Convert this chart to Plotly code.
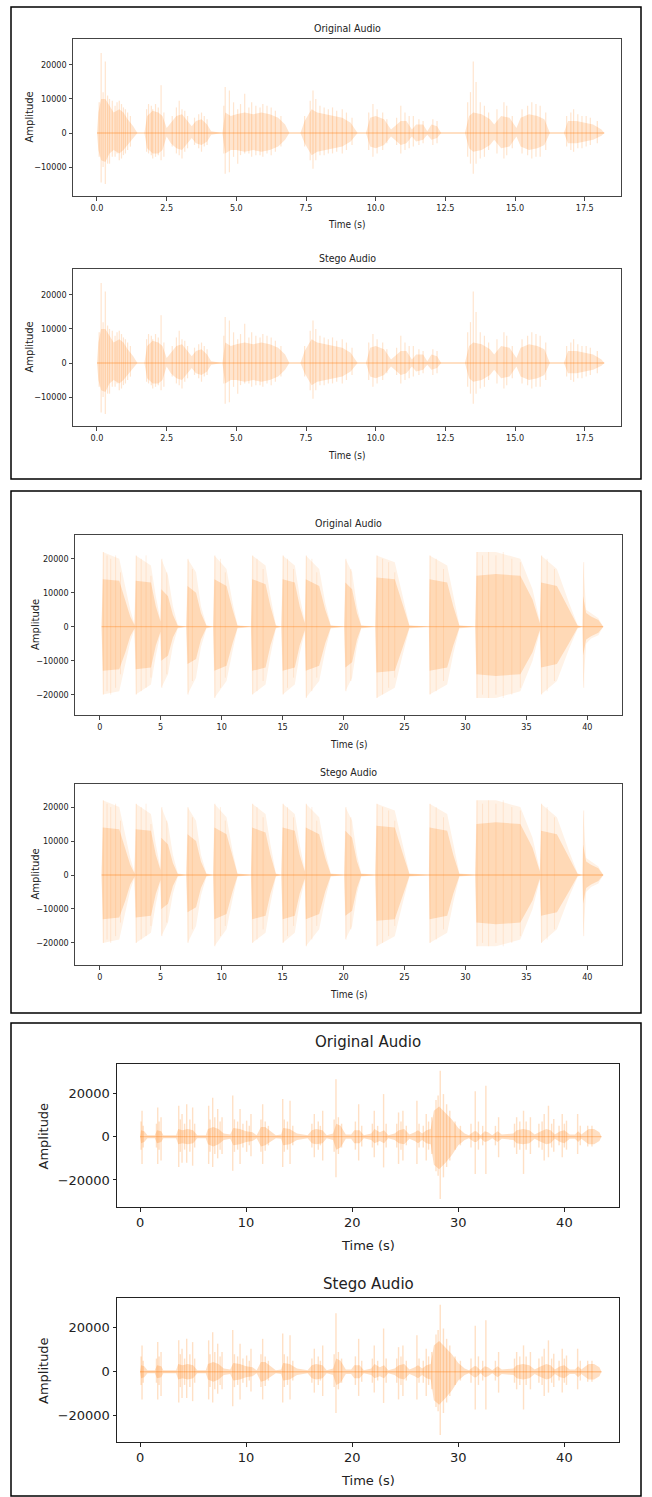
import plotly.graph_objects as go

W, H = 652, 1497

# ---------------- Panel 1 (speech clip, ~18 s) : envelope ----------------
p1_core_t = [0.0, 0.05, 0.15, 0.3, 0.45, 0.6, 0.8, 0.95, 1.1, 1.3, 1.45, 1.7, 1.8, 2.0, 2.2, 2.35, 2.5, 2.65, 2.85, 3.05,
             3.25, 3.4, 3.55, 3.75, 3.95, 4.1, 4.5, 4.6, 4.8, 5.0, 5.3, 5.6, 5.9, 6.2, 6.5, 6.75, 6.9, 7.3, 7.45, 7.7,
             7.9, 8.2, 8.5, 8.8, 9.1, 9.35, 9.65, 9.8, 10.0, 10.3, 10.55, 10.7, 10.9, 11.1, 11.3, 11.45, 11.7, 11.85, 12.0, 12.2,
             12.35, 13.2, 13.35, 13.5, 13.8, 14.1, 14.25, 14.5, 14.8, 15.05, 15.2, 15.5, 15.8, 16.05, 16.25, 16.75, 16.9, 17.2, 17.5, 17.8,
             18.1, 18.2]
p1_core_hi = [0, 6000, 10000, 10000, 8000, 6000, 7000, 6000, 4000, 2000, 0, 0, 5000, 6500, 6000, 5000, 1500, 3000, 5000, 5500,
              3500, 2000, 3500, 4000, 2500, 500, 0, 6000, 5000, 5500, 6000, 5500, 6000, 5500, 4500, 2500, 0, 0, 3500, 7000,
              6000, 5500, 5000, 4500, 3000, 0, 0, 4500, 5000, 4000, 1000, 2000, 3500, 3500, 1000, 2500, 2500, 500, 2500, 2000,
              0, 0, 5000, 6000, 5500, 4000, 2500, 5000, 4500, 1500, 4500, 5500, 5000, 4000, 0, 0, 3500, 3500, 3000, 2500,
              1000, 0]
p1_core_lo = [0, -5000, -8000, -8500, -6000, -5000, -6000, -5000, -3500, -1500, 0, 0, -4500, -6000, -6000, -5000, -1000, -3000, -4500, -5000,
              -3000, -1500, -3000, -3500, -2500, -500, 0, -6000, -5000, -5000, -5500, -5000, -5500, -5000, -4000, -2000, 0, 0, -3000, -6500,
              -5500, -5000, -4500, -4000, -2500, 0, 0, -4000, -4500, -3500, -1000, -2000, -3500, -3000, -1000, -2500, -2000, -500, -2000, -1500,
              0, 0, -4500, -5500, -5000, -3500, -2000, -4500, -4000, -1000, -4000, -5000, -4500, -3500, 0, 0, -3000, -3000, -2500, -2000,
              -800, 0]
p1_spike_t = [0.15, 0.3, 0.45, 0.55, 0.8, 0.95, 1.1, 1.85, 2.0, 2.3, 2.95, 3.05, 3.75, 4.6, 4.75, 5.3, 5.7, 6.1, 7.75, 7.85,
              8.3, 8.8, 9.9, 10.9, 11.35, 13.5, 13.6, 14.6, 15.6, 15.9, 17.1, 17.4,
              0.08, 0.22, 0.38, 0.65, 0.72, 0.88, 1.02, 1.2, 1.78, 1.95, 2.1, 2.2, 2.4, 2.7, 2.85, 3.15, 3.25, 3.5, 3.65, 3.85,
              3.95, 4.55, 4.9, 5.05, 5.15, 5.45, 5.55, 5.85, 5.95, 6.25, 6.4, 6.6, 7.45, 7.65, 8.0, 8.15, 8.45, 8.6, 8.95, 9.15,
              9.75, 10.05, 10.25, 10.4, 10.75, 11.05, 11.2, 11.55, 11.7, 12.05, 12.2, 13.3, 13.4, 13.75, 13.9, 14.05, 14.35, 14.7, 14.9, 15.25,
              15.45, 15.75, 16.1, 16.85, 17.0, 17.25, 17.55, 17.7, 17.95]
p1_spike_hi = [23500, 21000, 10000, 9500, 9500, 7500, 6000, 8500, 7000, 14000, 9500, 7000, 6000, 13500, 12500, 11500, 8000, 8000, 12500, 10000,
               7000, 7000, 8500, 8000, 5000, 21000, 15000, 9000, 9000, 8000, 7000, 5000,
               9000, 12000, 11000, 8000, 9000, 8500, 7000, 5000, 7000, 8000, 8500, 7500, 6000, 5000, 7500, 6500, 5000, 4500, 5500, 5000,
               4000, 8000, 9000, 7000, 8500, 7500, 9000, 7500, 8500, 7500, 6500, 5000, 5000, 9500, 8000, 7500, 7500, 6500, 6000, 4500,
               6000, 7000, 6000, 4000, 4500, 6000, 5000, 4000, 3500, 4000, 3500, 9000, 12000, 9000, 8000, 6000, 7000, 8000, 5000, 7000,
               8000, 8500, 6000, 5000, 6000, 5500, 5000, 4500, 3500]
p1_spike_lo = [-14500, -15000, -9000, -7000, -8000, -6500, -5000, -6000, -7500, -8000, -6500, -7500, -5500, -12000, -11500, -6000, -6500, -6000, -10500, -8000,
               -6000, -6000, -7000, -6000, -4000, -12000, -9000, -7500, -7500, -7000, -5500, -4500,
               -7000, -10000, -9000, -7000, -6000, -7500, -6000, -4000, -5500, -6500, -7000, -6500, -7000, -4000, -6000, -5500, -4500, -3500, -4500, -4000,
               -3500, -6000, -7000, -9000, -6500, -6000, -7000, -6500, -7000, -6500, -5500, -4000, -4000, -8000, -6500, -6500, -6000, -5500, -5000, -3500,
               -5000, -6000, -5000, -3000, -3500, -5000, -4500, -3500, -3000, -3500, -3000, -7000, -9000, -7500, -7000, -5000, -6000, -6500, -4500, -6000,
               -6500, -7000, -5000, -4000, -5000, -4500, -4000, -3500, -3000]

# ---------------- Panel 2 (percussive clip, ~41 s) ----------------
p2_core_t = [0.15, 0.25, 1.6, 2.1, 2.5, 2.85, 2.95, 4.2, 4.6, 4.98, 5.05, 5.6, 6.0, 6.4, 7.1, 7.2, 7.9, 8.3, 8.75, 9.3,
             9.4, 10.4, 10.9, 11.3, 12.4, 12.5, 13.6, 14.0, 14.45, 14.9, 15.0, 16.0, 16.4, 16.82, 16.9, 18.0, 18.5, 18.95, 20.05, 20.15,
             20.7, 21.1, 21.45, 22.6, 22.7, 24.2, 24.8, 25.4, 27.0, 27.05, 28.5, 29.0, 29.5, 30.8, 30.9, 32.5, 34.5, 35.5, 36.1, 36.2,
             37.5, 38.5, 39.2, 39.6, 39.65, 39.9, 40.3, 40.9, 41.3]
p2_core_hi = [0, 14000, 13500, 8000, 3000, 500, 13500, 13000, 6000, 1500, 11000, 9000, 3500, 300, 0, 12000, 10000, 4000, 300, 0,
              14000, 12000, 5000, 300, 0, 14000, 12500, 6000, 300, 0, 14000, 13000, 6000, 1000, 14000, 12000, 5000, 300, 0, 13000,
              11000, 4000, 300, 0, 14500, 14000, 7000, 300, 0, 14000, 13000, 6000, 300, 0, 15000, 15500, 15000, 8000, 1000, 13000,
              12000, 5000, 300, 0, 9000, 4000, 3000, 2000, 0]
p2_core_lo = [0, -13000, -12500, -7500, -2800, -500, -12500, -12000, -5500, -1500, -10000, -8500, -3200, -300, 0, -11000, -9500, -3800, -300, 0,
              -13000, -11500, -4800, -300, 0, -13000, -12000, -5500, -300, 0, -13000, -12000, -5500, -1000, -13000, -11500, -4800, -300, 0, -12000,
              -10500, -3800, -300, 0, -13500, -13000, -6500, -300, 0, -13000, -12000, -5500, -300, 0, -14000, -14500, -14000, -7500, -1000, -12000,
              -11000, -4800, -300, 0, -8500, -3800, -2800, -1800, 0]
# faint outer extent of the bursts (same time points as the core)
p2_halo_hi = [0, 22000, 20000, 12000, 5000, 800, 21000, 18000, 9000, 2000, 20000, 15000, 6000, 500, 0, 20000, 16000, 6000, 500, 0,
              21000, 17000, 7000, 500, 0, 21000, 18000, 9000, 500, 0, 21000, 18000, 9000, 1500, 21000, 17000, 7000, 500, 0, 20000,
              16000, 6000, 500, 0, 21000, 19000, 10000, 500, 0, 21000, 18000, 9000, 500, 0, 22000, 22000, 20000, 11000, 1500, 21000,
              17000, 7000, 500, 0, 19000, 5000, 4000, 2500, 0]
p2_halo_lo = [0, -20000, -19000, -11000, -4500, -800, -20000, -17000, -8500, -2000, -18000, -14000, -5500, -500, 0, -20000, -15000, -6000, -500, 0,
              -21000, -16000, -7000, -500, 0, -20000, -17000, -8500, -500, 0, -20000, -17000, -8000, -1500, -21000, -16000, -7000, -500, 0, -19000,
              -15000, -5500, -500, 0, -21000, -18000, -9000, -500, 0, -20000, -17000, -8000, -500, 0, -21000, -21000, -19000, -10000, -1500, -20000,
              -16000, -6500, -500, 0, -18000, -5000, -3500, -2500, 0]
p2_spike_t = [0.3, 0.6, 0.9, 1.3, 1.7, 3.0, 3.4, 3.8, 4.2, 5.1, 5.5, 7.25, 7.6, 9.45, 9.9, 10.3, 12.55, 12.9, 13.4, 15.05,
              15.4, 15.9, 16.95, 17.4, 17.8, 20.2, 20.6, 22.75, 23.2, 23.7, 24.2, 27.1, 27.6, 28.2, 30.95, 31.4, 31.9, 32.5, 33.1, 33.8,
              34.5, 36.25, 36.7, 37.3, 39.7]
p2_spike_hi = [22000, 21000, 20000, 21000, 16000, 21000, 20000, 21000, 15000, 20000, 16000, 20000, 17000, 21000, 20000, 16000, 21000, 20000, 17000, 21000,
               20000, 17000, 21000, 20000, 16000, 20000, 17000, 21000, 20000, 19000, 16000, 21000, 20000, 17000, 22000, 21000, 22000, 21000, 22000, 20000,
               19000, 21000, 20000, 17000, 19000]
p2_spike_lo = [-20000, -19000, -20000, -18000, -14000, -20000, -19000, -18000, -15000, -18000, -14000, -20000, -16000, -21000, -18000, -15000, -20000, -19000, -16000, -20000,
               -18000, -15000, -21000, -19000, -15000, -19000, -16000, -21000, -20000, -18000, -15000, -20000, -19000, -16000, -21000, -20000, -21000, -20000, -21000, -20000,
               -18000, -20000, -19000, -16000, -18000]

# ---------------- Panel 3 (speech clip, ~43 s) ----------------
p3_core_t = [0.0, 0.1, 0.4, 0.7, 1.4, 1.6, 2.0, 2.2, 3.4, 3.6, 4.0, 4.5, 5.0, 5.4, 6.2, 6.4, 6.9, 7.4, 7.9, 8.5,
             8.8, 9.4, 10.0, 10.6, 11.0, 11.4, 11.8, 12.3, 12.8, 13.3, 13.5, 14.1, 14.8, 15.8, 16.2, 16.6, 17.2, 17.6, 18.2, 18.5,
             18.9, 19.4, 19.9, 20.2, 20.7, 21.1, 21.8, 22.1, 22.6, 23.0, 23.4, 24.0, 24.4, 24.9, 25.4, 25.9, 26.2, 26.6, 27.0, 27.4,
             27.7, 28.2, 28.8, 29.4, 30.0, 30.6, 31.0, 31.5, 31.7, 32.1, 32.5, 32.8, 33.2, 33.7, 34.1, 35.2, 35.5, 36.1, 36.7, 37.2,
             37.8, 38.3, 38.7, 39.1, 39.6, 40.0, 40.5, 41.0, 41.3, 41.6, 42.0, 42.3, 42.8, 43.3, 43.5]
p3_core_hi = [0, 3000, 2500, 700, 700, 3000, 2500, 700, 700, 3500, 3000, 3500, 3000, 700, 700, 3500, 4500, 3500, 1500, 1000,
              4000, 3500, 2500, 2000, 700, 4500, 4500, 2500, 700, 1000, 4000, 3500, 1500, 700, 3000, 3500, 3000, 700, 1500, 6000,
              5000, 1000, 1000, 3000, 3000, 700, 1500, 3500, 2000, 3000, 700, 1500, 3000, 3500, 1000, 2000, 3000, 1500, 3000, 3500,
              12000, 14000, 11000, 8000, 4000, 1500, 700, 2500, 2500, 700, 2500, 2000, 700, 2500, 1000, 1500, 3000, 3500, 3000, 1000,
              2500, 3500, 3000, 1000, 2500, 3000, 1000, 1000, 2500, 1000, 2500, 3500, 3500, 2000, 0]
p3_core_lo = [0, -3000, -2500, -700, -700, -3000, -2500, -700, -700, -3500, -3000, -3500, -3000, -700, -700, -3500, -4500, -3500, -1500, -1000,
              -4000, -3500, -2500, -2000, -700, -4500, -4000, -2500, -700, -1000, -4000, -3500, -1500, -700, -3000, -3500, -3000, -700, -1500, -6000,
              -5000, -1000, -1000, -3000, -3000, -700, -1500, -3000, -2000, -3000, -700, -1500, -3000, -3500, -1000, -2000, -3000, -1500, -3000, -3500,
              -13000, -15000, -12000, -8500, -4000, -1500, -700, -2500, -2500, -700, -2500, -2000, -700, -2500, -1000, -1500, -3000, -3500, -3000, -1000,
              -2500, -3500, -3000, -1000, -2500, -3000, -1000, -1000, -2500, -1000, -2500, -3500, -3500, -2000, 0]
p3_spike_t = [0.19, 1.67, 1.98, 3.65, 3.96, 4.4, 4.96, 6.47, 6.85, 7.32, 7.73, 8.74, 9.43, 10.05, 10.46, 11.56, 13.45, 14.14, 16.43, 17.22,
              18.47, 20.61, 22.08, 22.96, 24.37, 24.78, 26.1, 26.98, 28.3, 28.6, 31.6, 32.6, 33.8, 35.5, 36.15, 36.8, 38.1, 38.5, 39.0, 39.8,
              40.2, 41.25,
              0.1, 0.3, 1.55, 1.8, 3.8, 4.2, 4.7, 5.15, 6.6, 7.05, 7.55, 8.9, 9.2, 9.7, 10.3, 11.4, 11.8, 12.1, 13.6, 13.9,
              14.4, 16.2, 16.8, 17.0, 18.3, 18.7, 19.0, 20.3, 20.9, 21.9, 22.4, 23.2, 24.2, 24.6, 25.1, 26.3, 26.7, 27.2, 27.5, 27.9,
              28.1, 28.9, 29.2, 29.7, 30.2, 31.2, 31.9, 32.3, 33.5, 35.3, 35.8, 36.4, 37.6, 37.9, 38.8, 39.5, 40.0, 41.5, 42.2, 42.6]
p3_spike_hi = [12000, 13500, 9000, 14300, 10500, 15000, 13500, 14300, 18000, 12800, 9000, 19000, 12800, 7400, 10500, 15000, 17400, 16600, 10500, 12000,
               26600, 15000, 12000, 19700, 11200, 12000, 16600, 10500, 30500, 19700, 21000, 23500, 9000, 9000, 12000, 9000, 10500, 14300, 8200, 10500,
               7400, 10500,
               7000, 5000, 6000, 7000, 8000, 6000, 8000, 6000, 8000, 9000, 7000, 8000, 7000, 6000, 5000, 8000, 7000, 5000, 8000, 7000,
               5000, 6000, 7000, 5000, 8000, 9000, 6000, 7000, 5000, 6000, 5000, 6000, 6000, 7000, 5000, 6000, 5000, 7000, 9000, 17000,
               19000, 15000, 12000, 7000, 5000, 6000, 7000, 5000, 5000, 6000, 7000, 7000, 6000, 7000, 6000, 5000, 6000, 5000, 5000, 5000]
p3_spike_lo = [-12600, -12600, -11000, -14000, -12000, -12000, -13400, -12600, -14000, -10000, -8000, -15700, -12600, -7000, -9000, -12600, -14000, -12600, -9500, -11000,
               -18800, -11000, -9500, -14200, -12600, -11000, -12600, -11000, -28800, -18800, -17200, -17200, -9500, -8000, -17200, -8000, -11000, -9500, -7000, -9500,
               -6000, -8000,
               -6000, -5000, -5000, -6000, -7000, -6000, -7000, -5000, -7000, -8000, -6000, -7000, -6000, -5000, -4000, -7000, -6500, -4000, -7000, -6000,
               -4000, -5000, -6000, -4000, -7000, -8000, -5000, -6000, -4500, -5000, -4000, -5000, -5000, -6000, -4000, -5000, -5000, -6000, -8000, -16000,
               -18000, -14000, -11000, -6000, -4000, -5000, -6000, -4000, -4000, -5000, -6000, -6000, -5000, -6000, -5000, -4000, -5000, -4000, -4500, -4500]

# The stego signals are visually indistinguishable from the originals in the picture
titles = ["Original Audio", "Stego Audio"]
x_label = "Time (s)"
y_label = "Amplitude"

p1 = dict(t=p1_core_t, hi=p1_core_hi, lo=p1_core_lo, st=p1_spike_t, sh=p1_spike_hi, sl=p1_spike_lo)
p2 = dict(t=p2_core_t, hi=p2_core_hi, lo=p2_core_lo, st=p2_spike_t, sh=p2_spike_hi, sl=p2_spike_lo,
          hhi=p2_halo_hi, hlo=p2_halo_lo)
p3 = dict(t=p3_core_t, hi=p3_core_hi, lo=p3_core_lo, st=p3_spike_t, sh=p3_spike_hi, sl=p3_spike_lo)

for d in (p1, p2, p3):
    assert len(d["t"]) == len(d["hi"]) == len(d["lo"]), (len(d["t"]), len(d["hi"]), len(d["lo"]))
    assert len(d["st"]) == len(d["sh"]) == len(d["sl"]), (len(d["st"]), len(d["sh"]), len(d["sl"]))
    if "hhi" in d:
        assert len(d["t"]) == len(d["hhi"]) == len(d["hlo"])

NARROW = "Liberation Sans Narrow, DejaVu Sans Condensed, Arial Narrow, Liberation Sans, sans-serif"
NORMAL = "DejaVu Sans, sans-serif"

# layout (pixel boxes) and styles for the six axes
s12 = dict(font=NARROW, fs=9, tfs=10.5, lfs=10, lfont=NORMAL, xlfs=10, lc="#444",
           core_a=0.20, spike_a=0.20, spike_w=1.2)
s2 = dict(font=NARROW, fs=9, tfs=10.5, lfs=10, lfont=NORMAL, xlfs=10, lc="#444",
          core_a=0.22, spike_a=0.12, spike_w=1.0)
s3 = dict(font=NORMAL, fs=13, tfs=15, lfs=13, lfont=NORMAL, xlfs=13, lc="#222",
          core_a=0.25, spike_a=0.24, spike_w=1.4)
subplots = [
    dict(data=p1, title=titles[0], box=(73, 621, 39, 196), xr=(-0.86, 18.8), yr=(-18500, 27600), dx=2.5, fmt=".1f", dy=10000,
         ty=28, lx=224, ylx=29, **s12),
    dict(data=p1, title=titles[1], box=(73, 621, 269, 426), xr=(-0.86, 18.8), yr=(-18500, 27600), dx=2.5, fmt=".1f", dy=10000,
         ty=258, lx=455, ylx=29, **s12),
    dict(data=p2, title=titles[0], box=(75, 622, 535, 715), xr=(-2.03, 42.84), yr=(-26000, 27000), dx=5, fmt="d", dy=10000,
         ty=523, lx=744, ylx=35, **s2),
    dict(data=p2, title=titles[1], box=(75, 622, 784, 965), xr=(-2.03, 42.84), yr=(-26500, 26800), dx=5, fmt="d", dy=10000,
         ty=772, lx=995, ylx=35, **s2),
    dict(data=p3, title=titles[0], box=(117, 619, 1064, 1207), xr=(-2.17, 45.15), yr=(-32500, 33600), dx=10, fmt="d", dy=20000,
         ty=1042, lx=1245, ylx=43, **s3),
    dict(data=p3, title=titles[1], box=(117, 619, 1298, 1442), xr=(-2.17, 45.15), yr=(-32000, 33600), dx=10, fmt="d", dy=20000,
         ty=1284, lx=1480, ylx=43, **s3),
]

panel_boxes = [(11, 641, 7, 479), (11, 641, 491, 1013), (11, 641, 1023, 1496)]

ORANGE = "255,127,14"


def px_x(p):
    return p / W


def px_y(p):
    return 1 - p / H


fig = go.Figure()
annotations = []
layout_axes = {}

for i, sp in enumerate(subplots, start=1):
    d = sp["data"]
    xa = "x" if i == 1 else f"x{i}"
    ya = "y" if i == 1 else f"y{i}"
    # faint outer extent (where read)
    if "hhi" in d:
        fig.add_trace(go.Scatter(
            x=list(d["t"]) + list(reversed(d["t"])),
            y=list(d["hhi"]) + list(reversed(d["hlo"])),
            fill="toself", fillcolor=f"rgba({ORANGE},0.10)", line=dict(width=0),
            mode="lines", hoverinfo="skip", xaxis=xa, yaxis=ya))
    # dense core of the waveform
    fig.add_trace(go.Scatter(
        x=list(d["t"]) + list(reversed(d["t"])),
        y=list(d["hi"]) + list(reversed(d["lo"])),
        fill="toself", fillcolor=f"rgba({ORANGE},{sp['core_a']})", line=dict(width=0),
        mode="lines", hoverinfo="skip", xaxis=xa, yaxis=ya))
    # baseline of the signal
    fig.add_trace(go.Scatter(
        x=[d["t"][0], d["t"][-1]], y=[0, 0], mode="lines",
        line=dict(color=f"rgba({ORANGE},0.33)", width=1.3), hoverinfo="skip", xaxis=xa, yaxis=ya))
    # individual peaks
    sx, sy = [], []
    for t, h, l in zip(d["st"], d["sh"], d["sl"]):
        sx += [t, t, None]
        sy += [l, h, None]
    fig.add_trace(go.Scatter(
        x=sx, y=sy, mode="lines", line=dict(color=f"rgba({ORANGE},{sp['spike_a']})", width=sp["spike_w"]),
        hoverinfo="skip", xaxis=xa, yaxis=ya))

    l, r, t, b = sp["box"]
    common = dict(showline=True, mirror=True, linecolor=sp["lc"], linewidth=1, ticks="outside", ticklen=3.5,
                  tickwidth=1, tickcolor=sp["lc"], showgrid=False, zeroline=False,
                  tickfont=dict(family=sp["font"], size=sp["fs"], color="#222"), tick0=0)
    layout_axes[f"xaxis{i if i > 1 else ''}"] = dict(
        domain=[px_x(l), px_x(r)], range=list(sp["xr"]), anchor=ya, dtick=sp["dx"], tickformat=sp["fmt"], **common)
    layout_axes[f"yaxis{i if i > 1 else ''}"] = dict(
        domain=[px_y(b), px_y(t)], range=list(sp["yr"]), anchor=xa, dtick=sp["dy"], tickformat="d", **common)

    cx = (l + r) / 2
    annotations.append(dict(text=sp["title"], x=px_x(cx), y=px_y(sp["ty"]), xref="paper", yref="paper",
                            xanchor="center", yanchor="middle", showarrow=False,
                            font=dict(family=sp["font"], size=sp["tfs"], color="#222")))
    annotations.append(dict(text=x_label, x=px_x(cx), y=px_y(sp["lx"]), xref="paper", yref="paper",
                            xanchor="center", yanchor="middle", showarrow=False,
                            font=dict(family=sp["font"], size=sp["xlfs"], color="#222")))
    annotations.append(dict(text=y_label, x=px_x(sp["ylx"]), y=px_y((t + b) / 2), xref="paper", yref="paper",
                            xanchor="center", yanchor="middle", showarrow=False, textangle=-90,
                            font=dict(family=sp["lfont"], size=sp["lfs"], color="#222")))

shapes = []
for (l, r, t, b) in panel_boxes:
    shapes.append(dict(type="rect", xref="paper", yref="paper", x0=px_x(l), x1=px_x(r), y0=px_y(b), y1=px_y(t),
                       line=dict(color="black", width=1.5), fillcolor="rgba(0,0,0,0)"))

fig.update_layout(
    width=W, height=H, autosize=False,
    margin=dict(l=0, r=0, t=0, b=0),
    paper_bgcolor="white", plot_bgcolor="white",
    showlegend=False,
    annotations=annotations, shapes=shapes,
    **layout_axes)

fig.write_html("out.html", config={"displayModeBar": False},
               post_script="document.body.style.margin='0';document.body.style.padding='0';")
